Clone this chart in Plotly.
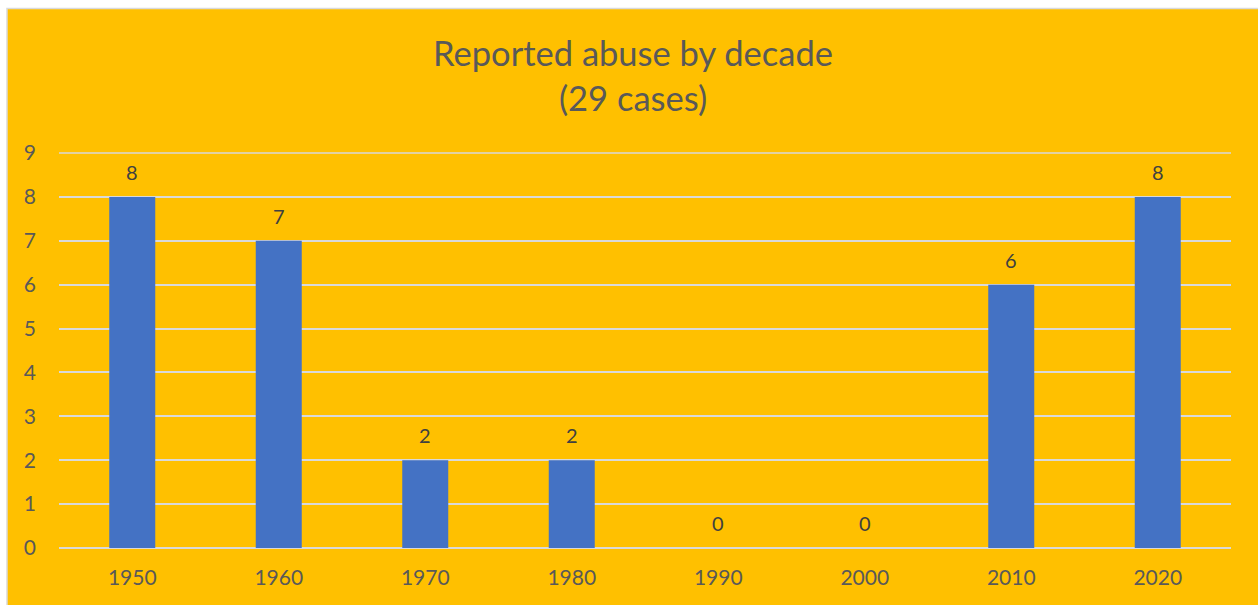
import plotly.graph_objects as go

decades = ["1950", "1960", "1970", "1980", "1990", "2000", "2010", "2020"]
cases = [8, 7, 2, 2, 0, 0, 6, 8]
y_ticks = [0, 1, 2, 3, 4, 5, 6, 7, 8, 9]
title_text = "Reported abuse by decade<br>(29 cases)"

W, H = 1258, 605
L, R, T, B = 59, 27, 153, 57
pw, ph = W - L - R, H - T - B

def px2x(px):
    return (px - L) / pw

def py2y(py):
    return (H - B - py) / ph

FONT = "Lato"
GRID = "#D9D9D9"
fig = go.Figure()
fig.add_trace(go.Bar(x=decades, y=cases, marker=dict(color="#4472C4", line=dict(width=0)),
                     hoverinfo="x+y"))

# category axis: annotation positions given by category index
for i, v in enumerate(cases):
    fig.add_annotation(x=i, y=v, text=str(v), showarrow=False, yanchor="middle",
                       yshift=25, font=dict(family=FONT, size=20, color="#404040"))

fig.add_shape(type="rect", xref="paper", yref="paper",
              x0=px2x(7), x1=px2x(W + 2), y0=py2y(H + 2), y1=py2y(8.5),
              fillcolor="#FFC000", line=dict(color=GRID, width=1.5), layer="below")
# top gridline at the top of the y range (plotly drops the gridline at the range edge)
fig.add_shape(type="line", xref="paper", yref="paper", x0=0, x1=1,
              y0=1, y1=1, line=dict(color=GRID, width=1.5), layer="below")

fig.update_layout(
    width=W, height=H,
    margin=dict(l=L, r=R, t=T, b=B),
    paper_bgcolor="white", plot_bgcolor="rgba(0,0,0,0)",
    showlegend=False,
    bargap=0.686,
    title=dict(text=title_text, x=633 / W, xanchor="center",
               y=1 - 66 / H, yanchor="middle",
               font=dict(family=FONT, size=34.5, color="#595959")),
    xaxis=dict(type="category", range=[-0.5, len(decades) - 0.5], showgrid=False,
               showline=False, ticks="", ticklabelstandoff=15,
               tickfont=dict(family=FONT, size=21, color="#595959")),
    yaxis=dict(range=[y_ticks[0], y_ticks[-1]], tickvals=y_ticks, showgrid=True, gridcolor=GRID,
               gridwidth=1.5, zeroline=True, zerolinecolor=GRID, zerolinewidth=1.5,
               showline=False, ticks="", ticklabelstandoff=22,
               tickfont=dict(family=FONT, size=21, color="#595959")),
)

fig.write_html("out.html", config={"displayModeBar": False},
               post_script="document.body.style.margin='0px';")
